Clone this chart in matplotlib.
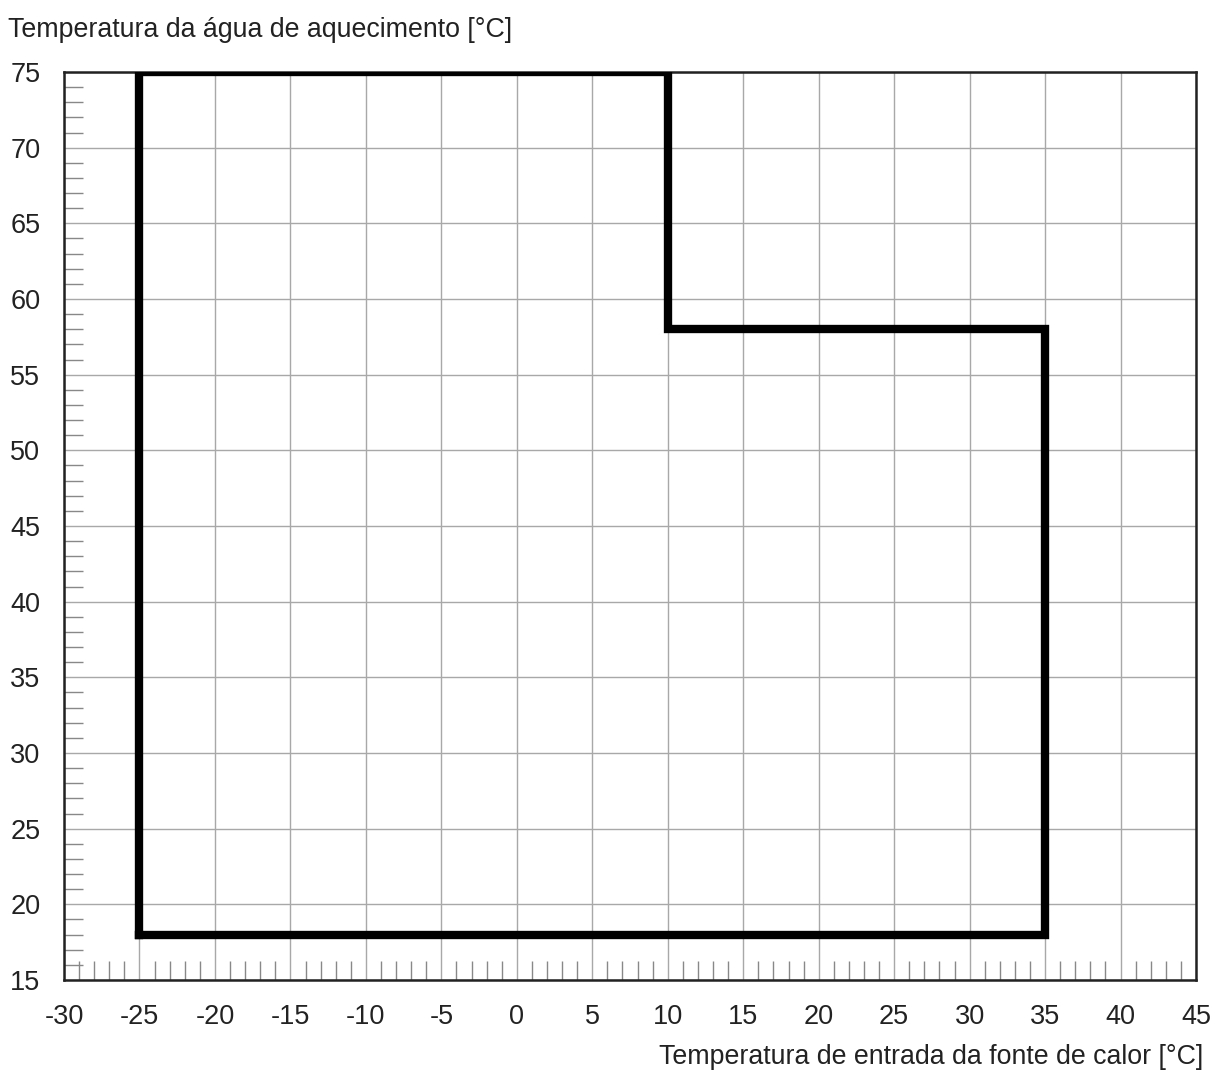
import matplotlib.pyplot as plt
from matplotlib.ticker import MultipleLocator

plt.rcParams['font.family'] = ['Liberation Sans', 'DejaVu Sans']
plt.rcParams['axes.unicode_minus'] = False

# operating envelope (source inlet temp, heating water temp)
env_x = [-25, -25, 10, 10, 35, 35, -25]
env_y = [18, 75, 75, 58, 58, 18, 18]

x_ticks = list(range(-30, 50, 5))
y_ticks = list(range(15, 80, 5))

fig = plt.figure(figsize=(12.15, 10.73), dpi=100)
ax = fig.add_axes([0.0527, 0.0867, 0.9317, 0.8462])

ax.plot(env_x, env_y, color='black', lw=6.0, solid_joinstyle='miter', zorder=3)

ax.set_xlim(-30, 45)
ax.set_ylim(15, 75)
ax.set_xticks(x_ticks)
ax.set_yticks(y_ticks)
ax.xaxis.set_minor_locator(MultipleLocator(1))
ax.yaxis.set_minor_locator(MultipleLocator(1))
ax.grid(True, which='major', color='#a8a8a8', lw=1.0)
ax.tick_params(which='major', length=0, labelsize=19.5, pad=17, colors='#222222')
ax.tick_params(which='minor', direction='in', length=14, width=1.0, color='#888888')
for s in ax.spines.values():
    s.set_color('#222222')
    s.set_linewidth(1.8)

fig.text(0.0066, 0.972, 'Temperatura da água de aquecimento [°C]', fontsize=19.3,
         color='#222222', va='center', ha='left')
fig.text(0.990, 0.015, 'Temperatura de entrada da fonte de calor [°C]', fontsize=19.3,
         color='#222222', va='center', ha='right')

fig.savefig('out.png', dpi=100)
